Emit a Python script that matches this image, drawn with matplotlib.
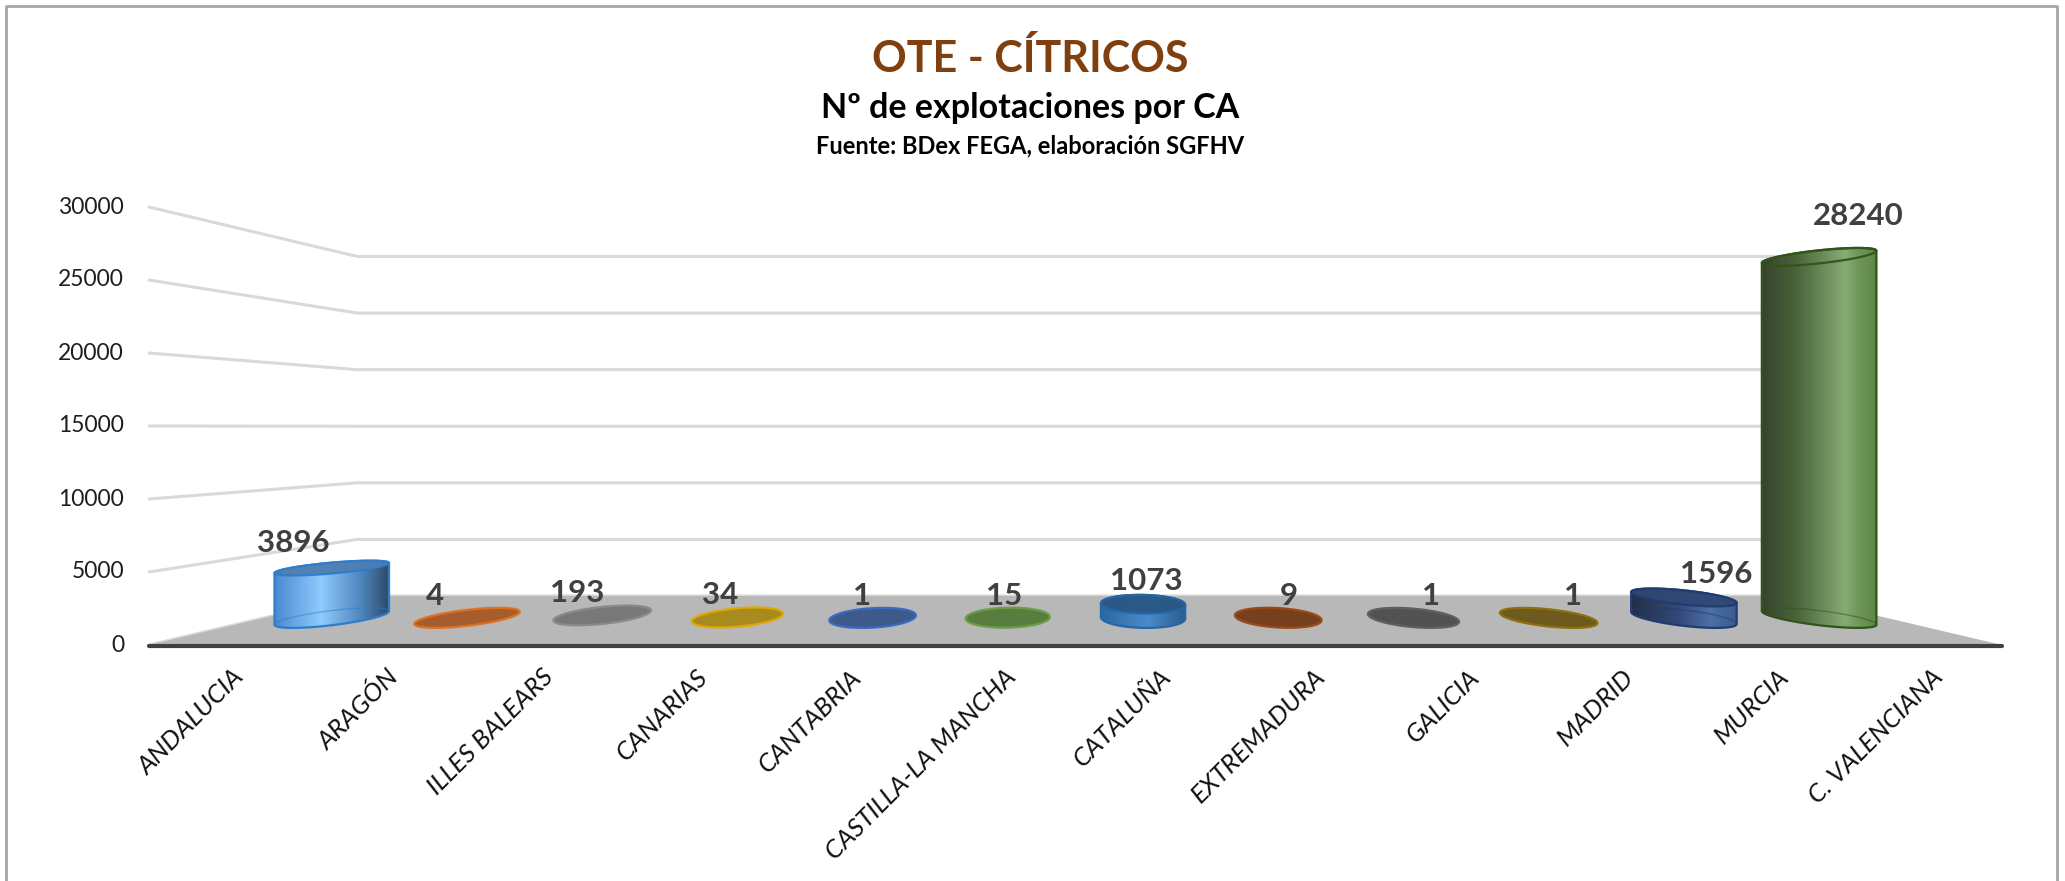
import numpy as np
import matplotlib
matplotlib.use("Agg")
import matplotlib.pyplot as plt
from matplotlib.patches import Polygon
from matplotlib.colors import LinearSegmentedColormap

plt.rcParams["font.family"] = ["Lato", "DejaVu Sans"]

# datos
categorias = ["ANDALUCIA", "ARAGÓN", "ILLES BALEARS", "CANARIAS", "CANTABRIA",
              "CASTILLA-LA MANCHA", "CATALUÑA", "EXTREMADURA", "GALICIA",
              "MADRID", "MURCIA", "C. VALENCIANA"]
valores = [3896, 4, 193, 34, 1, 15, 1073, 9, 1, 1, 1596, 28240]
ticks_y = [0, 5000, 10000, 15000, 20000, 25000, 30000]

titulo = "OTE - CÍTRICOS"
subtitulo = "Nº de explotaciones por CA"
fuente = "Fuente: BDex FEGA, elaboración SGFHV"

# estilos (relleno cara superior, borde, degradado del cuerpo)
estilos = [
    ("#4F7FB0", "#2E7DCB", [(0, "#4A8AD0"), (0.4, "#8FCBFF"), (0.75, "#4F86BE"), (1, "#2C4763")]),
    ("#A65D2E", "#E07020", None),
    ("#787878", "#8A8A8A", None),
    ("#A88B1E", "#E0A800", None),
    ("#3D5A8A", "#3B6BC0", None),
    ("#587D3F", "#6A9F48", None),
    ("#2A5885", "#2467A6", [(0, "#2C68A2"), (0.55, "#4A8CCB"), (1, "#2B5B8A")]),
    ("#76401F", "#9A4A18", None),
    ("#525252", "#606060", None),
    ("#6E5A1C", "#8F6E10", None),
    ("#2F4874", "#1F3C70", [(0, "#222F45"), (0.45, "#33497A"), (0.75, "#4C6FA6"), (1, "#3A5C90")]),
    (None, "#2F5518", [(0, "#37422F"), (0.3, "#4A643A"), (0.72, "#87AB75"), (0.85, "#6E9658"), (1, "#5C8646")]),
]

# perspectiva (pixeles)
VX, VY = 1075, 427
F = 800.0
Y0 = 645
ESC = 438 / 30000.0
XL, XR = -926.0, 927.0
DB = F * (1 / 0.775 - 1)
DC = DB / 2
R = 48.0


def proj(X, D, Z):
    s = F / (F + D)
    x = VX + X * s
    y = VY + (Y0 - Z * ESC - VY) * s
    return x, y


fig = plt.figure(figsize=(20.65, 8.81), dpi=100)
ax = fig.add_axes([0, 0, 1, 1])
ax.axis("off")

# borde
ax.plot([6, 6, 2057, 2057], [900, 6, 6, 900], color="#A6A6A6", lw=2, zorder=0)

# rejilla (pared izquierda y fondo)
for v in ticks_y:
    p0 = proj(XL, 0, v)
    p1 = proj(XL, DB, v)
    p2 = proj(XR, DB, v)
    ax.plot([p0[0], p1[0], p2[0]], [p0[1], p1[1], p2[1]], color="#D9D9D9", lw=2.2, zorder=1,
            solid_capstyle="round")
    ax.text(p0[0] - 25, p0[1], str(v), ha="right", va="center", fontsize=16.5, color="#1E1E1E")

# suelo
suelo = [proj(XL, 0, 0), proj(XL, DB, 0), proj(XR, DB, 0), proj(XR, 0, 0)]
ax.add_patch(Polygon(suelo, closed=True, facecolor="#B8B8B8", edgecolor="none", zorder=2))
ax.plot([suelo[0][0], suelo[3][0]], [Y0 + 1, Y0 + 1], color="#404040", lw=3, zorder=2,
        solid_capstyle="round")

th = np.linspace(0, 2 * np.pi, 241)[:-1]
n = len(th)
ancho = (XR - XL) / len(categorias)

for i, (cat, val) in enumerate(zip(categorias, valores)):
    Xc = XL + ancho * (i + 0.5)
    cara, borde, grad = estilos[i]
    bx, by = proj(Xc + R * np.cos(th), DC + R * np.sin(th), 0)
    tx, ty = proj(Xc + R * np.cos(th), DC + R * np.sin(th), val)
    iL, iR = np.argmin(bx), np.argmax(bx)
    frente = [(iL + k) % n for k in range((iR - iL) % n + 1)]
    fondo = [(iR + k) % n for k in range((iL - iR) % n + 1)]
    arriba = (Y0 - val * ESC) < VY
    arco_sup = frente[::-1] if arriba else fondo
    cuerpo = np.column_stack([np.r_[bx[frente], tx[arco_sup]], np.r_[by[frente], ty[arco_sup]]])

    if grad is not None:
        cmap = LinearSegmentedColormap.from_list("c%d" % i, grad)
        img = cmap(np.linspace(0, 1, 256))[None, :, :]
        pol = Polygon(cuerpo, closed=True, facecolor="none", edgecolor="none")
        ax.add_patch(pol)
        im = ax.imshow(img, extent=(bx.min(), bx.max(), by.max() + 2, ty.min() - 2),
                       aspect="auto", interpolation="bilinear", zorder=3)
        im.set_clip_path(pol)
        # arco trasero de la base visto a traves
        ax.plot(bx[fondo], by[fondo], color=borde, lw=1, alpha=0.5, zorder=4)
        ax.add_patch(Polygon(cuerpo, closed=True, facecolor="none", edgecolor=borde, lw=1.6,
                             zorder=4))
        ax.add_patch(Polygon(np.column_stack([tx, ty]), closed=True,
                             facecolor=cara if cara else "none", edgecolor=borde, lw=1.6,
                             alpha=0.95, zorder=5))
    else:
        ax.add_patch(Polygon(np.column_stack([tx, ty]), closed=True, facecolor=cara,
                             edgecolor=borde, lw=1.6, zorder=5))

    # etiqueta de valor
    lx, ly = proj(Xc, DC - R, val)
    ax.text(lx, ly - 32, str(val), ha="center", va="center", fontsize=22.5, fontweight="bold",
            color="#404040", zorder=6)

    # etiqueta de categoria
    fx, fy = proj(Xc, 0, 0)
    ax.text(fx + 6, fy + 20, cat, ha="right", va="top", rotation=45, rotation_mode="anchor",
            fontsize=18.5, fontstyle="italic", color="#111111")

# titulos
ax.text(1030, 59, titulo, ha="center", va="center", fontsize=31, fontweight="bold",
        color="#7F3F0E")
ax.text(1030, 108, subtitulo, ha="center", va="center", fontsize=24.5, fontweight="bold",
        color="black")
ax.text(1030, 146, fuente, ha="center", va="center", fontsize=17, fontweight="bold",
        color="black")

ax.set_xlim(0, 2065)
ax.set_ylim(881, 0)

fig.savefig("out.png", dpi=100)
